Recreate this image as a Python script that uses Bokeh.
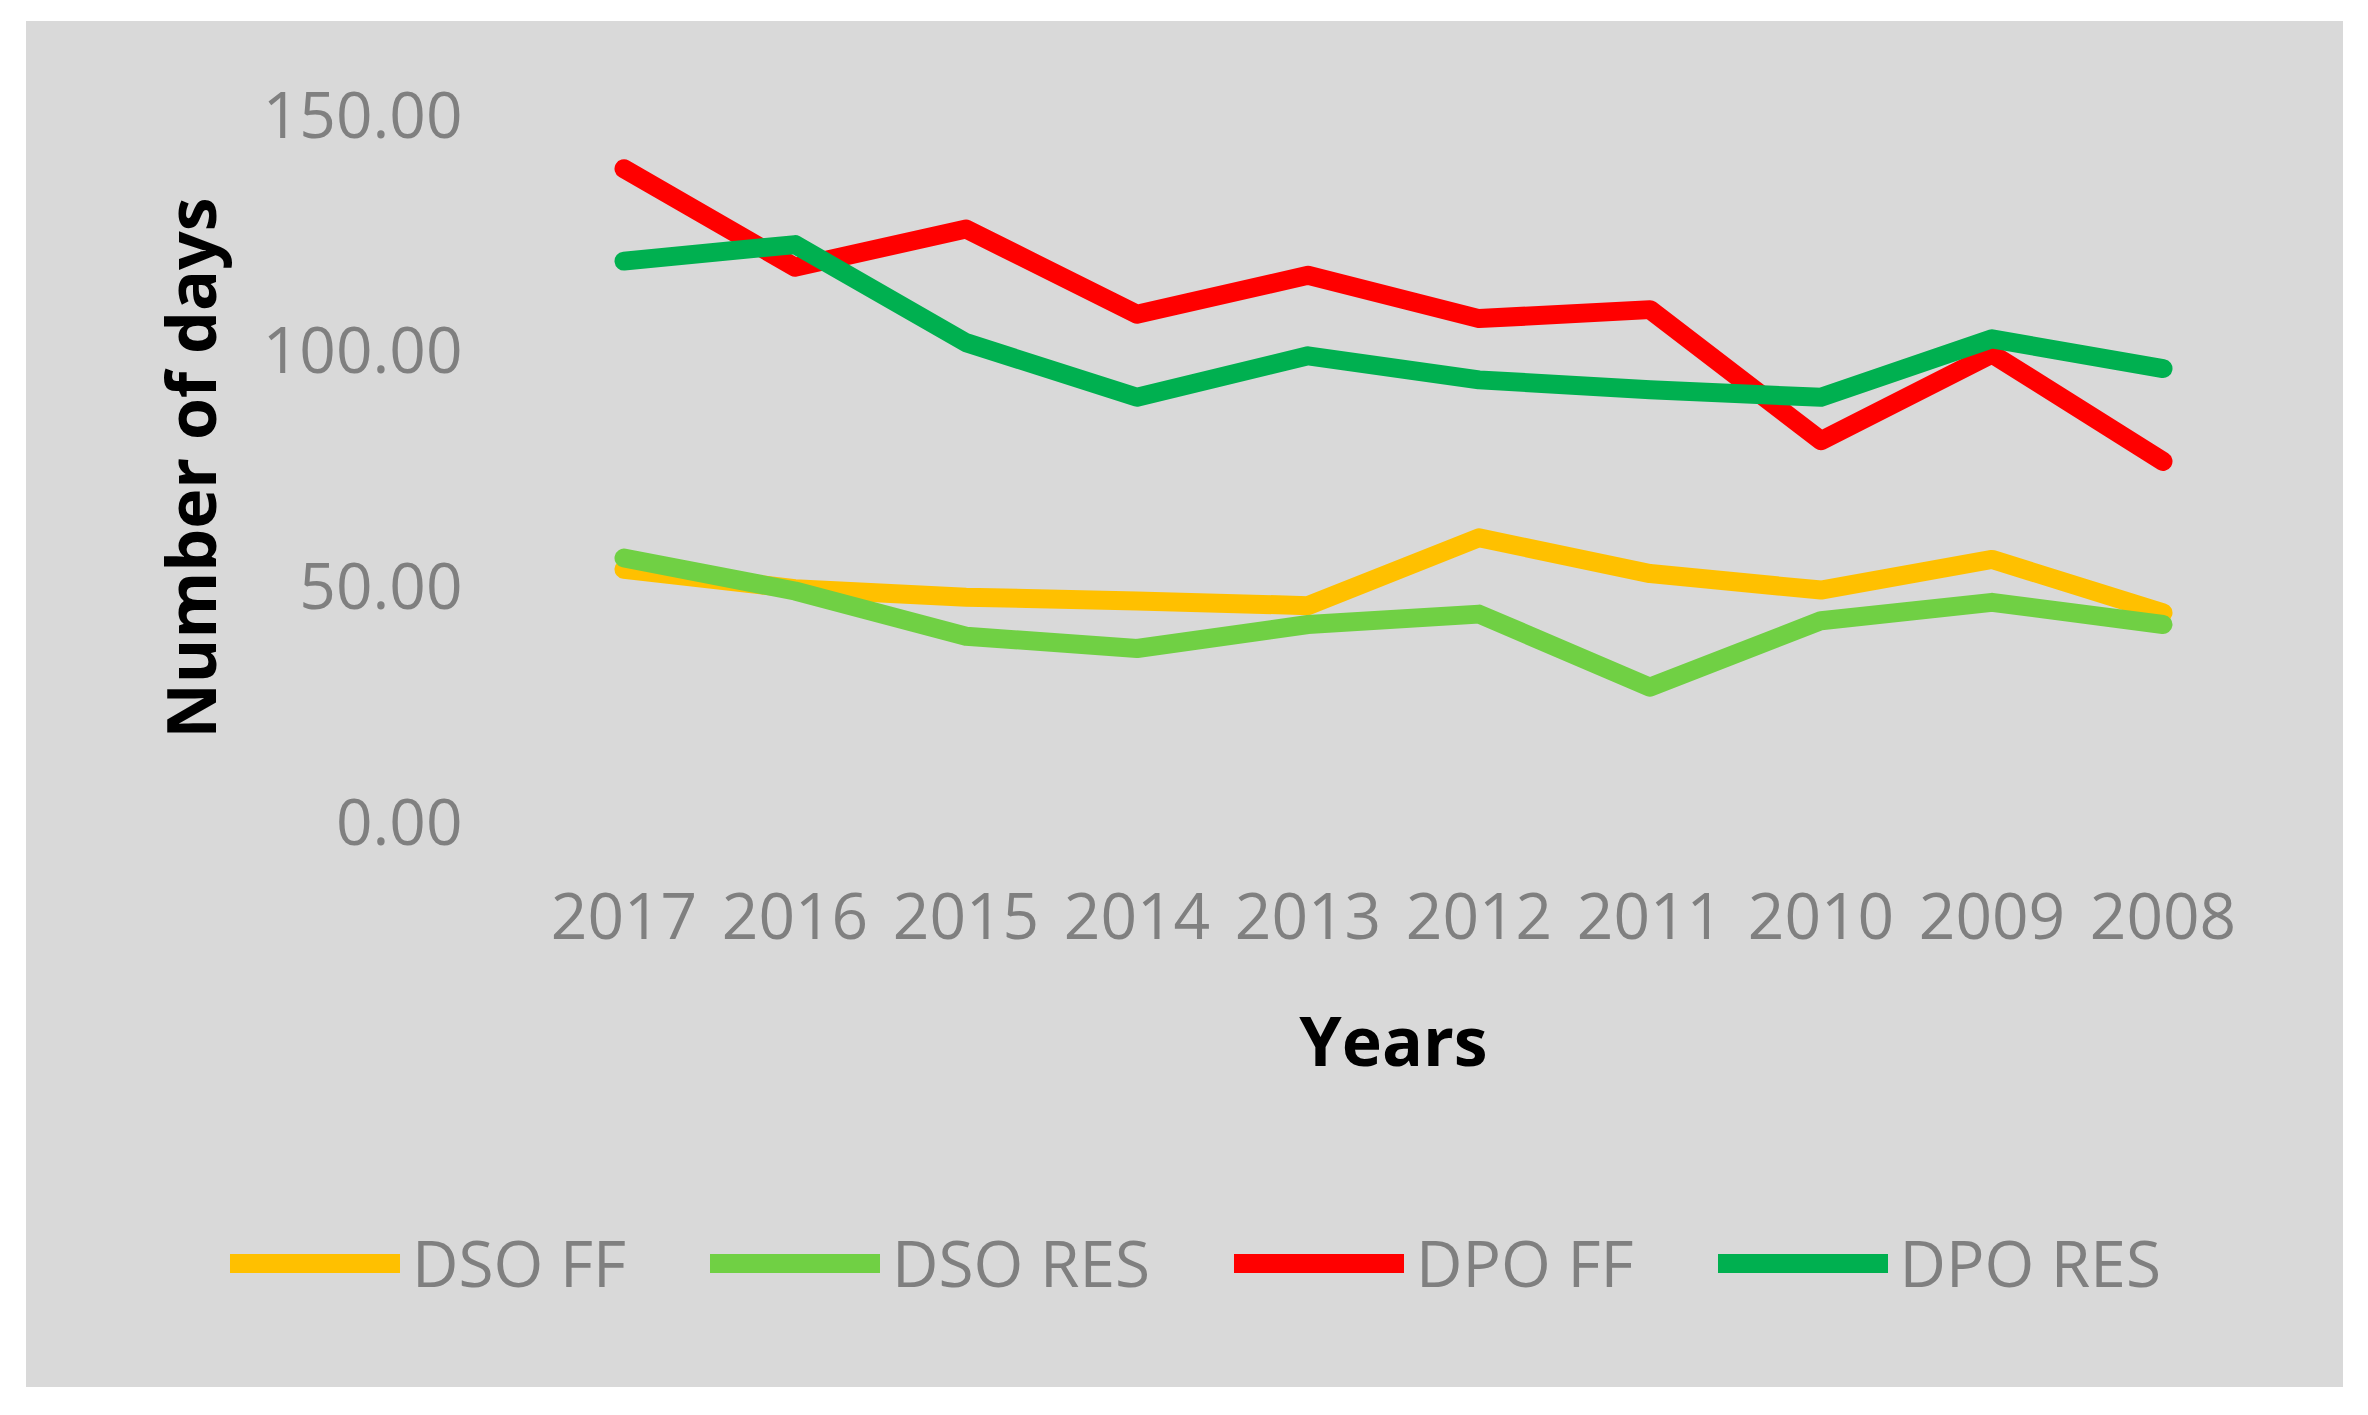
import numpy as np
from bokeh.plotting import figure
from bokeh.layouts import column
from bokeh.models import Range1d, FixedTicker, NumeralTickFormatter, Legend, LegendItem
from bokeh.embed import file_html
from bokeh.resources import INLINE

years = ["2017", "2016", "2015", "2014", "2013", "2012", "2011", "2010", "2009", "2008"]
dso_ff = [53.5, 49.4, 47.6, 46.8, 45.8, 60.2, 52.6, 49.1, 55.6, 44.3]
dso_res = [55.9, 48.9, 39.3, 36.7, 41.8, 44.0, 28.5, 42.6, 46.5, 41.8]
dpo_ff = [138.5, 117.6, 125.7, 107.6, 115.9, 106.7, 108.6, 80.8, 99.2, 76.4]
dpo_res = [118.9, 122.4, 101.6, 90.0, 98.8, 93.7, 91.6, 90.0, 102.4, 96.1]
series_names = ["DSO FF", "DSO RES", "DPO FF", "DPO RES"]
series_colors = ["#FFC000", "#70D044", "#FF0000", "#00B050"]
y_ticks = [0, 50, 100, 150]

BG = "#D9D9D9"
GRAY = "#808080"
FONT = "Open Sans"
LW = 19

p = figure(x_range=years, y_range=Range1d(0, 150), width=2317, height=1159,
           output_backend="svg", toolbar_location=None,
           min_border_left=512, min_border_right=95, min_border_top=93, min_border_bottom=359,
           background_fill_color=None, border_fill_color=None,
           outline_line_color=None)
p.xgrid.visible = False
p.ygrid.visible = False

for vals, c in zip([dso_ff, dso_res, dpo_ff, dpo_res], series_colors):
    p.line(x=years, y=vals, line_width=LW, line_color=c,
           line_cap="round", line_join="round")

for ax in (p.xaxis[0], p.yaxis[0]):
    ax.axis_line_color = None
    ax.major_tick_line_color = None
    ax.minor_tick_line_color = None
    ax.major_label_text_font = FONT
    ax.major_label_text_font_size = "64px"
    ax.major_label_text_color = GRAY
    ax.axis_label_text_font = FONT
    ax.axis_label_text_font_size = "68px"
    ax.axis_label_text_font_style = "bold"
    ax.axis_label_text_color = "black"

p.yaxis[0].ticker = FixedTicker(ticks=y_ticks)
p.yaxis[0].formatter = NumeralTickFormatter(format="0.00")
p.yaxis[0].major_label_standoff = 70
p.yaxis[0].axis_label = "Number of days"
p.yaxis[0].axis_label_standoff = 24

p.xaxis[0].major_label_standoff = 65
p.xaxis[0].axis_label = "Years"
p.xaxis[0].axis_label_standoff = 51

# legend strip below the chart
q = figure(x_range=Range1d(0, 2317), y_range=Range1d(0, 207), width=2317, height=207,
           output_backend="svg", toolbar_location=None, x_axis_type=None, y_axis_type=None,
           min_border=0, min_border_left=0, min_border_right=0, min_border_top=0, min_border_bottom=0,
           background_fill_color=None, border_fill_color=None,
           outline_line_color=None)
q.xgrid.visible = False
q.ygrid.visible = False
for fig in (p, q):
    if "frame_align" in fig.properties():
        fig.frame_align = False

legend_renderers = []
for c in series_colors:
    r = q.line(x=np.array([np.nan]), y=np.array([np.nan]), line_width=LW, line_color=c,
               line_cap="round", line_join="round")
    legend_renderers.append(r)

legend = Legend(items=[LegendItem(label=n, renderers=[r]) for n, r in zip(series_names, legend_renderers)],
                orientation="horizontal", location=(204, 81),
                glyph_width=170, glyph_height=20, label_standoff=12, spacing=84,
                padding=0, margin=0, border_line_color=None, background_fill_alpha=0,
                label_text_font=FONT, label_text_font_size="64px", label_text_color=GRAY)
q.add_layout(legend, "center")

layout = column(p, q, spacing=0, margin=(21, 0, 0, 26),
                styles={"background-color": BG})
open("out.html", "w").write(file_html(layout, INLINE))
